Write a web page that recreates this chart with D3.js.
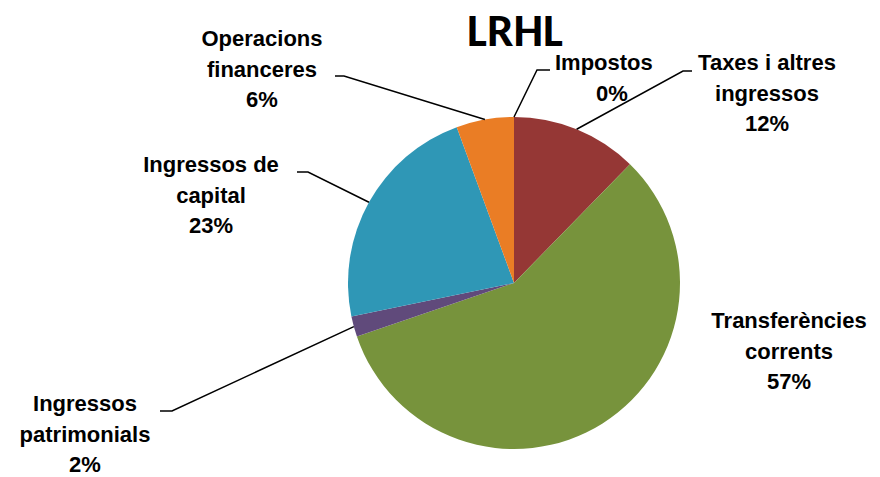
<html>
<head>
<meta charset="utf-8">
<script src="https://cdn.jsdelivr.net/npm/d3@7"></script>
<style>
  body { margin: 0; background: #fff; }
  text { font-family: "Liberation Sans", Arial, sans-serif; font-weight: bold; }
</style>
</head>
<body>
<div id="chart"></div>
<script>
// data (share of total, %)
const categories = ["Impostos", "Taxes i altres ingressos", "Transferències corrents",
                    "Ingressos patrimonials", "Ingressos de capital", "Operacions financeres"];
const values = [0, 12.3, 57.4, 2.0, 22.6, 5.6];
const shownPct = ["0%", "12%", "57%", "2%", "23%", "6%"];
const labelLines = [["Impostos"], ["Taxes i altres", "ingressos"], ["Transferències", "corrents"],
                    ["Ingressos", "patrimonials"], ["Ingressos de", "capital"], ["Operacions", "financeres"]];
const colors = ["#3a5f8f", "#953735", "#77933c", "#604a7b", "#2f97b6", "#ea7d25"];

// label placement: text anchor x, first line baseline y, leader elbow (null = no leader)
const labelPos = [
  {x: 612, y: 70, elbow: [537, 70], tail: 550},
  {x: 767, y: 70, elbow: [683, 71], tail: 692},
  {x: 789, y: 328, elbow: null},
  {x: 85, y: 411, elbow: [172, 411], tail: 160},
  {x: 211, y: 172, elbow: [308, 172], tail: 297},
  {x: 262, y: 46, elbow: [344, 76], tail: 335}
];

const width = 880, height = 477;
const cx = 514, cy = 283, r = 166;

const svg = d3.select("#chart").append("svg")
  .attr("width", width).attr("height", height);

svg.append("text")
  .attr("x", 515).attr("y", 46)
  .attr("text-anchor", "middle")
  .style("font-family", "Carlito, Lato, 'Open Sans', sans-serif")
  .style("font-size", "47px")
  .text("LRHL");

const pie = d3.pie().sort(null).value(d => d);
const arcs = pie(values);
const arc = d3.arc().innerRadius(0).outerRadius(r);

const g = svg.append("g").attr("transform", `translate(${cx},${cy})`);

g.selectAll("path")
  .data(arcs)
  .enter()
  .append("path")
  .attr("d", arc)
  .attr("fill", (d, i) => colors[i]);

// leader lines
arcs.forEach((a, i) => {
  const p = labelPos[i];
  if (!p.elbow) return;
  const mid = (a.startAngle + a.endAngle) / 2;
  const sx = cx + r * Math.sin(mid), sy = cy - r * Math.cos(mid);
  svg.append("polyline")
    .attr("points", `${sx},${sy} ${p.elbow[0]},${p.elbow[1]} ${p.tail},${p.elbow[1]}`)
    .attr("fill", "none")
    .attr("stroke", "#000")
    .attr("stroke-width", 1.5);
});

// labels
categories.forEach((c, i) => {
  const p = labelPos[i];
  const t = svg.append("text")
    .style("font-size", "22px");
  const lines = labelLines[i].concat([shownPct[i]]);
  lines.forEach((ln, k) => {
    t.append("tspan")
      .attr("x", i === 0 && k === 0 ? 555 : p.x)
      .attr("text-anchor", i === 0 && k === 0 ? "start" : "middle")
      .attr("y", p.y + k * 30.5)
      .text(ln);
  });
});
</script>
</body>
</html>
